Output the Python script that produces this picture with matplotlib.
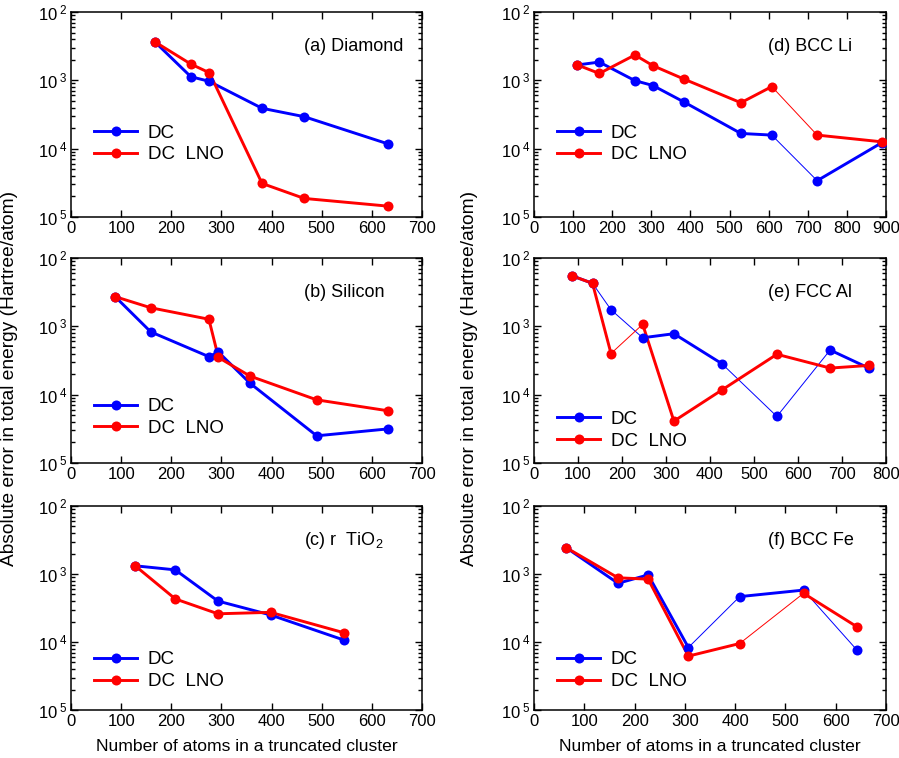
import matplotlib
matplotlib.use("Agg")
import matplotlib.pyplot as plt
from matplotlib.lines import Line2D
from matplotlib.ticker import LogLocator, NullFormatter, MultipleLocator

plt.rcParams['font.family'] = ['Liberation Sans', 'DejaVu Sans']
plt.rcParams['mathtext.fontset'] = 'custom'
plt.rcParams['mathtext.rm'] = 'Liberation Sans'
plt.rcParams['mathtext.it'] = 'Liberation Sans'

# ---------------- data ----------------
series_labels = ["DC", "DC  LNO"]
ytick_values = [1e-5, 1e-4, 1e-3, 1e-2]
ytick_exponents = ["5", "4", "3", "2"]
xlabel_text = "Number of atoms in a truncated cluster"
ylabel_text = "Absolute error in total energy (Hartree/atom)"

titles = ["(a) Diamond", "(b) Silicon", r"(c) r  TiO$_2$",
          "(d) BCC Li", "(e) FCC Al", "(f) BCC Fe"]
xmax = [700, 700, 700, 900, 800, 700]

a_dc_x = [167, 239, 275, 381, 465, 633]
a_dc_y = [3.67e-3, 1.13e-3, 9.7e-4, 3.9e-4, 2.94e-4, 1.17e-4]
a_lno_x = [167, 239, 276, 381, 465, 633]
a_lno_y = [3.67e-3, 1.73e-3, 1.29e-3, 3.1e-5, 1.87e-5, 1.44e-5]

b_dc_x = [88, 159, 275, 294, 357, 490, 633]
b_dc_y = [2.72e-3, 8.3e-4, 3.6e-4, 4.2e-4, 1.47e-4, 2.5e-5, 3.16e-5]
b_lno_x = [88, 159, 275, 294, 357, 490, 633]
b_lno_y = [2.72e-3, 1.87e-3, 1.27e-3, 3.5e-4, 1.87e-4, 8.4e-5, 5.8e-5]

c_dc_x = [128, 208, 293, 398, 544]
c_dc_y = [1.32e-3, 1.15e-3, 4.0e-4, 2.5e-4, 1.07e-4]
c_lno_x = [128, 208, 293, 398, 544]
c_lno_y = [1.32e-3, 4.3e-4, 2.6e-4, 2.73e-4, 1.37e-4]

d_dc_x = [111, 167, 258, 304, 384, 529, 608, 724, 889]
d_dc_y = [1.68e-3, 1.85e-3, 9.9e-4, 8.4e-4, 4.8e-4, 1.67e-4, 1.58e-4, 3.4e-5, 1.22e-4]
d_lno_x = [111, 167, 258, 304, 384, 529, 608, 724, 889]
d_lno_y = [1.68e-3, 1.26e-3, 2.35e-3, 1.64e-3, 1.04e-3, 4.7e-4, 8.1e-4, 1.58e-4, 1.26e-4]

e_dc_x = [86, 133, 175, 247, 318, 427, 552, 673, 762]
e_dc_y = [5.5e-3, 4.26e-3, 1.75e-3, 6.8e-4, 7.8e-4, 2.84e-4, 4.8e-5, 4.5e-4, 2.43e-4]
e_lno_x = [86, 133, 175, 247, 318, 427, 552, 673, 762]
e_lno_y = [5.5e-3, 4.26e-3, 4.0e-4, 1.07e-3, 4.1e-5, 1.17e-4, 3.9e-4, 2.45e-4, 2.68e-4]

f_dc_x = [64, 167, 227, 307, 409, 536, 643]
f_dc_y = [2.44e-3, 7.3e-4, 9.7e-4, 8.3e-5, 4.65e-4, 5.8e-4, 7.5e-5]
f_lno_x = [64, 167, 227, 307, 409, 536, 643]
f_lno_y = [2.44e-3, 8.8e-4, 8.4e-4, 6.2e-5, 9.5e-5, 5.2e-4, 1.66e-4]

# segments drawn with thin line (index i = segment from point i to i+1)
thin_dc = [[], [], [], [6], [1, 2, 5, 6], [3, 5]]
thin_lno = [[], [], [], [6], [2], [4]]

# ---------------- style / layout ----------------
BLUE = (0, 0, 1)
RED = (1, 0, 0)
THICK = 2.1
THIN = 0.7
MS = 7.2

fig = plt.figure(figsize=(8.99, 7.58), dpi=100)

W, H = 899, 758
col_x = [71, 534]
col_w = [351, 352]
row_top = [12, 258, 506]
row_h = [205, 205, 204]

legend_mid = [0.356, 0.222, 0.193, 0.356, 0.16, 0.193]

data = [
    (a_dc_x, a_dc_y, a_lno_x, a_lno_y),
    (b_dc_x, b_dc_y, b_lno_x, b_lno_y),
    (c_dc_x, c_dc_y, c_lno_x, c_lno_y),
    (d_dc_x, d_dc_y, d_lno_x, d_lno_y),
    (e_dc_x, e_dc_y, e_lno_x, e_lno_y),
    (f_dc_x, f_dc_y, f_lno_x, f_lno_y),
]


def draw_series(ax, xs, ys, thin, color):
    for i in range(len(xs) - 1):
        lw = THIN if i in thin else THICK
        ax.plot(xs[i:i + 2], ys[i:i + 2], color=color, lw=lw,
                solid_capstyle='butt', zorder=2)
    ax.plot(xs, ys, linestyle='none', marker='o', ms=MS, color=color,
            markeredgewidth=0, zorder=3)


axes = []
for k in range(6):
    col = k // 3
    row = k % 3
    left = col_x[col] / W
    bottom = 1 - (row_top[row] + row_h[row]) / H
    ax = fig.add_axes([left, bottom, col_w[col] / W, row_h[row] / H])
    axes.append(ax)
    dcx, dcy, lx, ly = data[k]
    draw_series(ax, dcx, dcy, thin_dc[k], BLUE)
    draw_series(ax, lx, ly, thin_lno[k], RED)

    ax.set_yscale('log')
    ax.set_ylim(1e-5, 1e-2)
    ax.set_xlim(0, xmax[k])
    ax.xaxis.set_major_locator(MultipleLocator(100))
    ax.set_yticks(ytick_values)
    ax.set_yticklabels([r'$\mathregular{10^{\ %s}}$' % e for e in ytick_exponents])
    ax.yaxis.set_minor_locator(LogLocator(base=10, subs=range(2, 10)))
    ax.yaxis.set_minor_formatter(NullFormatter())
    ax.tick_params(which='both', direction='in', top=True, right=True,
                   width=1.0, labelsize=12)
    ax.tick_params(which='major', length=5)
    ax.tick_params(which='minor', length=3)
    ax.tick_params(axis='y', pad=2)
    ax.tick_params(axis='x', pad=3)
    for s in ax.spines.values():
        s.set_linewidth(1.1)

    ax.text(0.665, 0.83, titles[k], transform=ax.transAxes, ha='left',
            va='center', fontsize=13)

    handles = [Line2D([], [], color=BLUE, lw=THICK, marker='o', ms=MS, markeredgewidth=0),
               Line2D([], [], color=RED, lw=THICK, marker='o', ms=MS, markeredgewidth=0)]
    ax.legend(handles, series_labels, loc='center left',
              bbox_to_anchor=(0.066, legend_mid[k]), frameon=False,
              fontsize=13.5, handlelength=2.3, handletextpad=0.55,
              labelspacing=0.25, borderpad=0, borderaxespad=0)

    if row == 2:
        ax.set_xlabel(xlabel_text, fontsize=12.6, labelpad=7)

fig.text(10 / W, 1 - 378 / H, ylabel_text, rotation=90, ha='center',
         va='center', fontsize=13.8)
fig.text(470 / W, 1 - 378 / H, ylabel_text, rotation=90, ha='center',
         va='center', fontsize=13.8)

fig.savefig('out.png', dpi=100)
